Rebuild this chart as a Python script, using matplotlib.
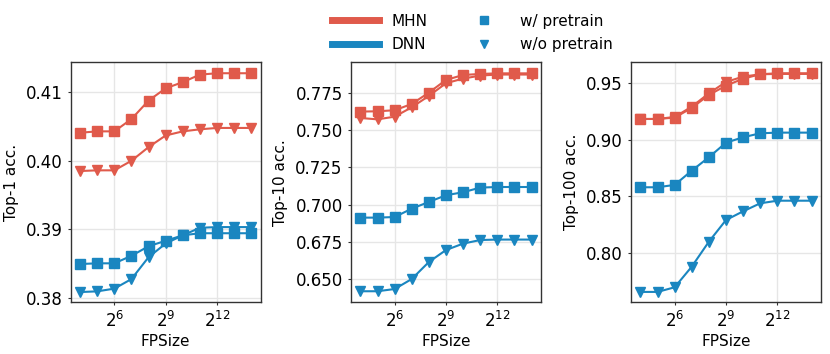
import matplotlib
matplotlib.use("Agg")
import matplotlib.pyplot as plt
from matplotlib.lines import Line2D
import numpy as np

exps = list(range(4, 15))
fpsize = [2 ** e for e in exps]

top1_mhn_w = [0.4041, 0.4043, 0.4043, 0.4061, 0.4088, 0.4106, 0.4115, 0.4126, 0.4128, 0.4128, 0.4128]
top1_mhn_wo = [0.3985, 0.3986, 0.3986, 0.4000, 0.4020, 0.4037, 0.4043, 0.4046, 0.4048, 0.4048, 0.4048]
top1_dnn_w = [0.3849, 0.3850, 0.3850, 0.3861, 0.3875, 0.3883, 0.3891, 0.3894, 0.3894, 0.3894, 0.3894]
top1_dnn_wo = [0.3808, 0.3809, 0.3813, 0.3827, 0.3859, 0.3879, 0.3891, 0.3902, 0.3903, 0.3903, 0.3903]

top10_mhn_w = [0.7623, 0.7625, 0.7632, 0.7674, 0.7750, 0.7835, 0.7868, 0.7875, 0.7879, 0.7879, 0.7879]
top10_mhn_wo = [0.7580, 0.7571, 0.7589, 0.7652, 0.7728, 0.7813, 0.7844, 0.7864, 0.7871, 0.7871, 0.7871]
top10_dnn_w = [0.6913, 0.6913, 0.6917, 0.6973, 0.7018, 0.7063, 0.7083, 0.7114, 0.7118, 0.7118, 0.7118]
top10_dnn_wo = [0.6420, 0.6420, 0.6435, 0.6502, 0.6616, 0.6696, 0.6739, 0.6763, 0.6766, 0.6766, 0.6766]

top100_mhn_w = [0.9184, 0.9184, 0.9196, 0.9282, 0.9397, 0.9479, 0.9541, 0.9580, 0.9589, 0.9589, 0.9589]
top100_mhn_wo = [0.9184, 0.9184, 0.9202, 0.9293, 0.9411, 0.9512, 0.9559, 0.9580, 0.9583, 0.9583, 0.9583]
top100_dnn_w = [0.8579, 0.8579, 0.8600, 0.8726, 0.8845, 0.8974, 0.9022, 0.9057, 0.9063, 0.9063, 0.9063]
top100_dnn_wo = [0.7652, 0.7652, 0.7693, 0.7876, 0.8097, 0.8289, 0.8366, 0.8437, 0.8460, 0.8460, 0.8460]

ylabels = ["Top-1 acc.", "Top-10 acc.", "Top-100 acc."]
yticks_list = [[0.38, 0.39, 0.40, 0.41],
               [0.650, 0.675, 0.700, 0.725, 0.750, 0.775],
               [0.80, 0.85, 0.90, 0.95]]
ytickfmt = ["{:.2f}", "{:.3f}", "{:.2f}"]
ylims = [(0.3793, 0.4144), (0.6346, 0.7953), (0.756, 0.9686)]
xticks = [2 ** 6, 2 ** 9, 2 ** 12]

RED = "#e05a4b"
BLUE = "#1a86c0"

data = [
    (top1_mhn_w, top1_mhn_wo, top1_dnn_w, top1_dnn_wo),
    (top10_mhn_w, top10_mhn_wo, top10_dnn_w, top10_dnn_wo),
    (top100_mhn_w, top100_mhn_wo, top100_dnn_w, top100_dnn_wo),
]

W, H = 830, 354
fig = plt.figure(figsize=(W / 100, H / 100), dpi=100)
lefts = [70.7, 351, 631]
for i, left in enumerate(lefts):
    ax = fig.add_axes([left / W, 51.7 / H, 190 / W, 240 / H])
    mw, mwo, dw, dwo = data[i]
    ax.plot(fpsize, dwo, color=BLUE, marker="v", ms=6.5, lw=1.5, zorder=3)
    ax.plot(fpsize, dw, color=BLUE, marker="s", ms=6.5, lw=1.5, zorder=3)
    ax.plot(fpsize, mwo, color=RED, marker="v", ms=6.5, lw=1.5, zorder=3)
    ax.plot(fpsize, mw, color=RED, marker="s", ms=6.5, lw=1.5, zorder=3)
    ax.set_xscale("log", base=2)
    ax.set_xticks(xticks)
    ax.set_xticklabels([r"$2^{%d}$" % int(np.log2(t)) for t in xticks])
    ax.minorticks_off()
    ax.set_xlim(2 ** 3.45, 2 ** 14.55)
    ax.set_ylim(*ylims[i])
    ax.set_yticks(yticks_list[i])
    ax.set_yticklabels([ytickfmt[i].format(t) for t in yticks_list[i]])
    ax.grid(True, color="#e6e6e6", lw=1.0, zorder=0)
    ax.set_axisbelow(True)
    for s in ax.spines.values():
        s.set_color("#333333")
        s.set_linewidth(1.0)
    ax.tick_params(axis="both", labelsize=12, length=2.5, color="#333333", pad=3.5)
    ax.set_xlabel("FPSize", fontsize=11, labelpad=2)
    ax.set_ylabel(ylabels[i], fontsize=11, labelpad=5)

handles = [
    Line2D([], [], color=RED, lw=5),
    Line2D([], [], color=BLUE, lw=5),
    Line2D([], [], color=BLUE, marker="s", ls="none", ms=6),
    Line2D([], [], color=BLUE, marker="v", ls="none", ms=6),
]
labels = ["MHN", "DNN", "w/ pretrain", "w/o pretrain"]
fig.legend(handles, labels, ncol=2, frameon=False, fontsize=11,
           loc="upper left", bbox_to_anchor=(318 / W, 1.0),
           handlelength=3.1, columnspacing=2.15, labelspacing=0.55, handletextpad=0.8)

fig.savefig("out.png", dpi=100)
